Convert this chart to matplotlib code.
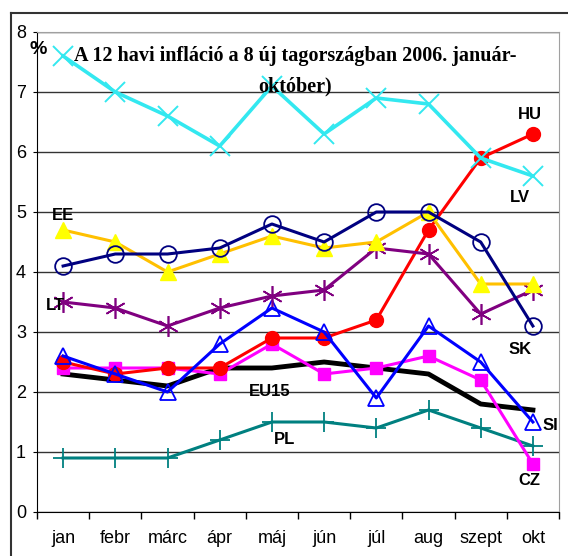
import matplotlib
matplotlib.use("Agg")
import matplotlib.pyplot as plt
from matplotlib.lines import Line2D

# Data (12-month inflation, %)
months = ['jan', 'febr', 'márc', 'ápr', 'máj', 'jún', 'júl', 'aug', 'szept', 'okt']
eu15 = [2.3, 2.2, 2.1, 2.4, 2.4, 2.5, 2.4, 2.3, 1.8, 1.7]
pl = [0.9, 0.9, 0.9, 1.2, 1.5, 1.5, 1.4, 1.7, 1.4, 1.1]
cz = [2.4, 2.4, 2.4, 2.3, 2.8, 2.3, 2.4, 2.6, 2.2, 0.8]
hu = [2.5, 2.3, 2.4, 2.4, 2.9, 2.9, 3.2, 4.7, 5.9, 6.3]
si = [2.6, 2.3, 2.0, 2.8, 3.4, 3.0, 1.9, 3.1, 2.5, 1.5]
lt = [3.5, 3.4, 3.1, 3.4, 3.6, 3.7, 4.4, 4.3, 3.3, 3.7]
ee = [4.7, 4.5, 4.0, 4.3, 4.6, 4.4, 4.5, 5.0, 3.8, 3.8]
sk = [4.1, 4.3, 4.3, 4.4, 4.8, 4.5, 5.0, 5.0, 4.5, 3.1]
lv = [7.6, 7.0, 6.6, 6.1, 7.1, 6.3, 6.9, 6.8, 5.9, 5.6]

W, H = 568, 556
fig = plt.figure(figsize=(W / 100, H / 100), dpi=100)
ax = fig.add_axes([37 / W, 1 - 512 / H, (559 - 37) / W, (512 - 32) / H])

x = list(range(len(months)))

ax.plot(x, eu15, color='black', lw=3.5, zorder=3)
ax.plot(x, pl, color='#008080', lw=2.2, marker='+', ms=14, mew=1.3, zorder=4)
ax.plot(x, cz, color='#FF00FF', lw=2.2, marker='s', ms=9, zorder=5)
ax.plot(x, hu, color='#FF0000', lw=2.2, marker='o', ms=10, zorder=6)
ax.plot(x, si, color='#0000FF', lw=2.2, marker='^', ms=12, mfc='none', mew=1.3, zorder=7)
ax.plot(x, lt, color='#800080', lw=2.2, marker=(6, 2, 0), ms=15, mew=1.2, zorder=8)
ax.plot(x, ee, color='#FFC000', lw=2.2, marker='^', ms=11, mfc='#FFFF00', mec='#FFFF00', zorder=9)
ax.plot(x, sk, color='#000080', lw=2.2, marker='o', ms=12, mfc='none', mew=1.3, zorder=10)
ax.plot(x, lv, color='#33E8F0', lw=2.6, marker='x', ms=14, mew=1.4, zorder=11)

ax.set_xlim(-0.5, len(months) - 0.5)
ax.set_ylim(0, 8)
ax.set_yticks(range(0, 9))
ax.set_xticks(x)
ax.set_xticklabels(months)
ax.set_xticks([i - 0.5 for i in range(len(months) + 1)], minor=True)
ax.tick_params(axis='x', which='major', length=0, pad=13, labelsize=13)
ax.tick_params(axis='x', which='minor', length=5, width=1, direction='out')
ax.tick_params(axis='y', length=3, pad=5, labelsize=13)
for lab in ax.get_xticklabels() + ax.get_yticklabels():
    lab.set_fontfamily('Liberation Sans')

ax.grid(axis='y', color='#333333', lw=1)
ax.set_axisbelow(True)
for s in ['top', 'right']:
    ax.spines[s].set_color('#A0A0A0')
for s in ['left', 'bottom']:
    ax.spines[s].set_color('black')

lab_style = dict(fontsize=12, fontweight='bold', family='Liberation Sans',
                 ha='center', va='center', zorder=20)
ax.text(8.94, 6.62, 'HU', **lab_style)
ax.text(8.75, 5.25, 'LV', **lab_style)
ax.text(0.0, 4.95, 'EE', **lab_style)
ax.text(-0.15, 3.45, 'LT', **lab_style)
ax.text(8.75, 2.7, 'SK', **lab_style)
ax.text(3.96, 2.0, 'EU15', **lab_style)
ax.text(4.25, 1.2, 'PL', **lab_style)
ax.text(9.33, 1.45, 'SI', **lab_style)
ax.text(8.94, 0.53, 'CZ', **lab_style)

fig.text(295 / W, 1 - 46 / H,
         'A 12 havi infláció a 8 új tagországban 2006. január-\noktóber)',
         ha='center', va='top', multialignment='center', linespacing=1.7,
         fontsize=14.5, fontweight='bold', family='Liberation Serif')
fig.text(38 / W, 1 - 50 / H, '%', ha='center', va='center',
         fontsize=14, fontweight='bold', family='Liberation Sans')

# outer chart frame
fig.add_artist(Line2D([11 / W, 11 / W], [0, 1 - 13 / H], color='#333333', lw=1.5,
                      transform=fig.transFigure))
fig.add_artist(Line2D([11 / W, 1], [1 - 13 / H, 1 - 13 / H], color='#333333', lw=1.5,
                      transform=fig.transFigure))

fig.savefig('out.png', dpi=100)
